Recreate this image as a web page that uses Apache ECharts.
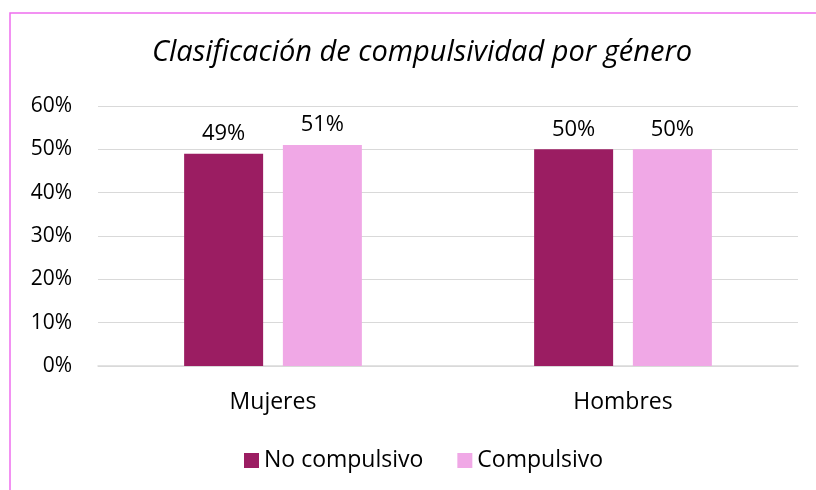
<!DOCTYPE html>
<html>
<head>
<meta charset="utf-8">
<script src="https://cdn.jsdelivr.net/npm/echarts@6/dist/echarts.min.js"></script>
<style>
  html, body { margin: 0; padding: 0; background: #fff; }
  #chart { width: 816px; height: 490px; }
</style>
</head>
<body>
<div id="chart"></div>
<script>
var categories = ['Mujeres', 'Hombres'];
var seriesNames = ['No compulsivo', 'Compulsivo'];
var noCompulsivo = [49, 50];
var compulsivo = [51, 50];
var yTicks = [0, 10, 20, 30, 40, 50, 60];

var font = '"Open Sans", "Noto Sans", sans-serif';
var myChart = echarts.init(document.getElementById('chart'));

var option = {
  animation: false,
  textStyle: { fontFamily: font },
  title: {
    text: 'Clasificación de compulsividad por género',
    left: 147,
    top: 33,
    textStyle: { fontSize: 29, fontStyle: 'italic', fontWeight: 'normal', color: '#000', fontFamily: font }
  },
  // marco rosa (sin borde derecho ni inferior visibles)
  graphic: [{
    type: 'rect',
    shape: { x: 10, y: 13, width: 900, height: 600 },
    style: { fill: 'none', stroke: '#EE6EEE', lineWidth: 1.5 },
    silent: true
  }],
  grid: { left: 98, right: 18, top: 106, bottom: 124 },
  legend: {
    top: 444,
    left: 239,
    itemWidth: 15,
    itemHeight: 15,
    itemGap: 34,
    icon: 'rect',
    textStyle: { fontSize: 23, color: '#000', fontFamily: font },
    data: seriesNames
  },
  xAxis: {
    type: 'category',
    data: categories,
    axisLine: { lineStyle: { color: '#d9d9d9', width: 1.5 } },
    axisTick: { show: false },
    axisLabel: { fontSize: 23, color: '#000', margin: 25 }
  },
  yAxis: {
    type: 'value',
    min: yTicks[0],
    max: yTicks[yTicks.length - 1],
    interval: 10,
    axisLine: { show: false },
    axisTick: { show: false },
    splitLine: { lineStyle: { color: '#d9d9d9', width: 1 } },
    axisLabel: { fontSize: 21, color: '#000', margin: 26, formatter: '{value}%' }
  },
  series: [
    {
      name: seriesNames[0],
      type: 'bar',
      data: noCompulsivo,
      barWidth: 79,
      barGap: '25%',
      itemStyle: { color: '#9B1D62' },
      label: { show: true, position: 'top', distance: 9, fontSize: 22, color: '#000', formatter: '{c}%' }
    },
    {
      name: seriesNames[1],
      type: 'bar',
      data: compulsivo,
      barWidth: 79,
      itemStyle: { color: '#F0A8E6' },
      label: { show: true, position: 'top', distance: 9, fontSize: 22, color: '#000', formatter: '{c}%' }
    }
  ]
};
myChart.setOption(option);
</script>
</body>
</html>
